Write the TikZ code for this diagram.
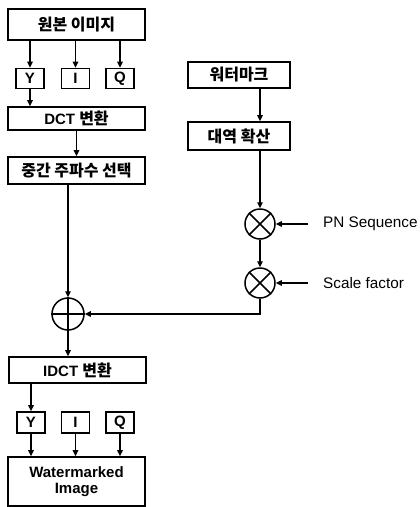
\documentclass[tikz,border=0pt]{standalone}
\usepackage{fontspec}
\setmainfont{Liberation Sans}
\newfontfamily\krfam{Noto Sans CJK KR}
\newcommand\krtext{\krfam\fontsize{16}{18}\selectfont}
\usetikzlibrary{arrows.meta}

\begin{document}
\begin{tikzpicture}[x=1pt, y=-1pt,
  blk/.style={draw, line width=1.7pt, inner sep=0pt,
    font=\bfseries\fontsize{15}{17}\selectfont},
  wide/.style={blk, minimum width=137pt},
  side/.style={blk, minimum width=102pt},
  chan/.style={blk, minimum width=28pt, minimum height=20pt},
  mix/.style={draw, circle, line width=1.5pt, minimum size=30pt, inner sep=0pt},
  link/.style={line width=1.4pt, -{Triangle[length=6pt, width=5.5pt]}},
  lbl/.style={anchor=west, inner sep=0pt, font=\fontsize{15.3}{17}\selectfont}]

  \fill[white] (0,0) rectangle (420,507);
  \useasboundingbox (0,0) rectangle (420,507);

  % left column: image path
  \node[wide, minimum height=31pt] (src) at (76.5,24.5) {\krtext 원본 이미지};
  \node[chan] (y1) at (30,78.5) {Y};
  \node[chan] (i1) at (75.5,78.5) {I};
  \node[chan] (q1) at (120,78.5) {Q};
  \node[wide, minimum height=23pt] (dct) at (76.5,118.5) {DCT {\krtext 변환}};
  \node[wide, minimum height=27pt] (mid) at (76.5,170.5) {\krtext 중간 주파수 선택};
  \node[mix, minimum size=32pt] (add) at (68,314) {};
  \node[wide, minimum height=26pt] (idct) at (77.5,370) {IDCT {\krtext 변환}};
  \node[chan, minimum height=21pt] (y2) at (31,422.5) {Y};
  \node[chan, minimum height=21pt] (i2) at (75.5,422.5) {I};
  \node[chan, minimum height=21pt] (q2) at (120,422.5) {Q};
  \node[wide, minimum height=49pt, align=center] (out) at (76.5,481.5)
    {Watermarked\\[-1pt]Image};

  % right column: watermark path
  \node[side, minimum height=26pt] (wm) at (239,75) {\krtext 워터마크};
  \node[side, minimum height=28pt] (spr) at (239,136) {\krtext 대역 확산};
  \node[mix] (m1) at (260,224) {};
  \node[mix] (m2) at (260,283) {};
  \node[lbl] (pn) at (323,224) {PN Sequence};
  \node[lbl] (sf) at (323,283) {Scale factor};
  \coordinate (pnin) at (308,224);
  \coordinate (sfin) at (308,283);

  % operator symbols
  \draw[line width=1.5pt] (m1.north west) -- (m1.south east)
                          (m1.north east) -- (m1.south west);
  \draw[line width=1.5pt] (m2.north west) -- (m2.south east)
                          (m2.north east) -- (m2.south west);
  \draw[line width=1.5pt] (add.north) -- (add.south) (add.west) -- (add.east);

  % connectors
  \draw[link] (src.south -| y1.north) -- (y1.north);
  \draw[link] (src.south -| i1.north) -- (i1.north);
  \draw[link] (src.south -| q1.north) -- (q1.north);
  \draw[link] (y1.south) -- (y1.south |- dct.north);
  \draw[link] (dct.south) -- (mid.north);
  \draw[link] (mid.south -| add.north) -- (add.north);
  \draw[link] (add.south) -- (add.south |- idct.north);
  \draw[link] (idct.south -| y2.north) -- (y2.north);
  \draw[link] (y2.south) -- (y2.south |- out.north);
  \draw[link] (i2.south) -- (i2.south |- out.north);
  \draw[link] (q2.south) -- (q2.south |- out.north);

  \draw[link] (wm.south -| m1.north) -- (m1.north |- spr.north);
  \draw[link] (spr.south -| m1.north) -- (m1.north);
  \draw[link] (m1.south) -- (m2.north);
  \draw[link] (pnin) -- (m1.east);
  \draw[link] (sfin) -- (m2.east);
  \draw[link] (m2.south) |- (add.east);
\end{tikzpicture}
\end{document}
